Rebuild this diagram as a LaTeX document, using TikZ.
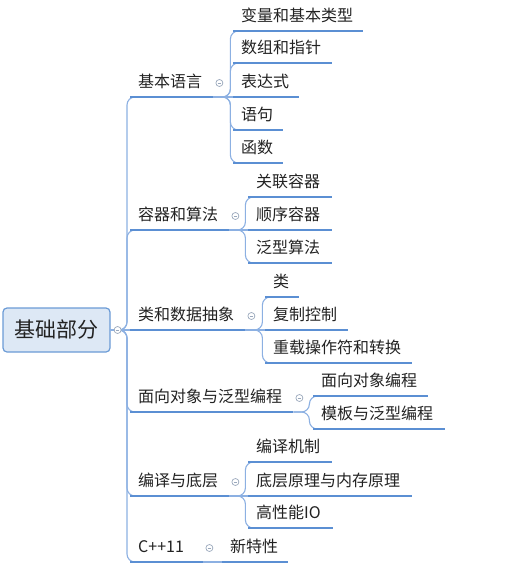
\documentclass[tikz,border=0pt]{standalone}
\usepackage{fontspec}
\setmainfont{Noto Sans CJK SC}
\definecolor{ulblue}{HTML}{5B8FD3}
\definecolor{lnblue}{HTML}{8CB0E2}
\definecolor{rootfill}{HTML}{DDE8F5}
\definecolor{rootline}{HTML}{6B9BD6}
\definecolor{dotgray}{HTML}{9AA8BC}
\definecolor{txt}{HTML}{222222}

\begin{document}
\begin{tikzpicture}[x=1pt,y=-1pt,
    item/.style={anchor=south west,inner xsep=8pt,inner ysep=0pt,text height=14pt,text depth=9pt,
        align=left,text=txt,font=\fontsize{16}{18}\selectfont},
    root/.style={draw=rootline,line width=1.2pt,fill=rootfill,rounded corners=4pt,minimum width=107pt,
        minimum height=44pt,text=txt,font=\fontsize{21}{24}\selectfont},
    link/.style={lnblue,line width=1.1pt,rounded corners=8pt},
    uline/.style={ulblue,line width=2pt},
    fold/.style={circle,draw=dotgray,fill=white,line width=0.7pt,minimum size=7pt,inner sep=0pt,
        path picture={\draw[dotgray,line width=0.7pt] ([xshift=-1.8pt]path picture bounding box.center)
        -- ([xshift=1.8pt]path picture bounding box.center);}}]
    \useasboundingbox (0,0) rectangle (514,576);

    \node[root] (root) at (56.5,330) {基础部分};

    \node[item,text width=67pt] (lang) at (130,97) {基本语言};
    \node[item,text width=83pt] (cont) at (130,230) {容器和算法};
    \node[item,text width=99pt] (cls) at (130,330) {类和数据抽象};
    \node[item,text width=147pt] (oop) at (130,412) {面向对象与泛型编程};
    \node[item,text width=83pt] (comp) at (130,496) {编译与底层};
    \node[item,text width=57pt] (cpp) at (130,562) {C++11};

    \node[item,text width=114pt] (v1) at (233,31) {变量和基本类型};
    \node[item,text width=83pt] (v2) at (233,63) {数组和指针};
    \node[item,text width=50pt] (v3) at (233,97) {表达式};
    \node[item,text width=34pt] (v4) at (233,130) {语句};
    \node[item,text width=34pt] (v5) at (233,163) {函数};

    \node[item,text width=68pt] (c1) at (248,197) {关联容器};
    \node[item,text width=68pt] (c2) at (248,230) {顺序容器};
    \node[item,text width=68pt] (c3) at (248,263) {泛型算法};

    \node[item,text width=18pt] (k1) at (265,297) {类};
    \node[item,text width=67pt] (k2) at (265,330) {复制控制};
    \node[item,text width=131pt] (k3) at (265,363) {重载操作符和转换};

    \node[item,text width=99pt] (o1) at (313,396) {面向对象编程};
    \node[item,text width=116pt] (o2) at (313,429) {模板与泛型编程};

    \node[item,text width=68pt] (b1) at (248,462) {编译机制};
    \node[item,text width=148pt] (b2) at (248,496) {底层原理与内存原理};
    \node[item,text width=69pt] (b3) at (248,528) {高性能IO};

    \node[item,text width=50pt] (n1) at (222,562) {新特性};

    % forks
    \coordinate (trunk) at (127,330);
    \coordinate (lang-k) at ([xshift=17pt]lang.south east);
    \coordinate (cont-k) at ([xshift=16pt]cont.south east);
    \coordinate (cls-k) at ([xshift=17pt]cls.south east);
    \coordinate (oop-k) at ([xshift=16pt]oop.south east);
    \coordinate (comp-k) at ([xshift=16pt]comp.south east);

    \foreach \c in {lang,cont,oop,comp,cpp}
    \draw[link] (root.east) -- (trunk) |- ([xshift=8pt]\c.south west);
    \draw[link] (root.east) -- (cls.south west);

    \foreach \c in {v1,v2,v4,v5}
    \draw[link] (lang.south east) -- (lang-k) |- ([xshift=8pt]\c.south west);
    \draw[link] (lang.south east) -- (v3.south west);
    \foreach \c in {c1,c3}
    \draw[link] (cont.south east) -- (cont-k) |- ([xshift=8pt]\c.south west);
    \draw[link] (cont.south east) -- (c2.south west);
    \foreach \c in {k1,k3}
    \draw[link] (cls.south east) -- (cls-k) |- ([xshift=8pt]\c.south west);
    \draw[link] (cls.south east) -- (k2.south west);
    \foreach \c in {o1,o2}
    \draw[link] (oop.south east) -- (oop-k) |- ([xshift=8pt]\c.south west);
    \foreach \c in {b1,b3}
    \draw[link] (comp.south east) -- (comp-k) |- ([xshift=8pt]\c.south west);
    \draw[link] (comp.south east) -- (b2.south west);
    \draw[link] (cpp.south east) -- (n1.south west);

    % underlines
    \foreach \n in {lang,cont,cls,oop,comp,cpp,v1,v2,v3,v4,v5,c1,c2,c3,k1,k2,k3,o1,o2,b1,b2,b3,n1}
    \draw[uline] (\n.south west) -- (\n.south east);

    % fold markers
    \node[fold] (root-f) at ([xshift=7pt]root.east) {};
    \foreach \n in {lang,cont,cls,oop,comp,cpp}
    \node[fold] (\n-f) at ([xshift=6pt,yshift=14pt]\n.south east) {};
\end{tikzpicture}
\end{document}
